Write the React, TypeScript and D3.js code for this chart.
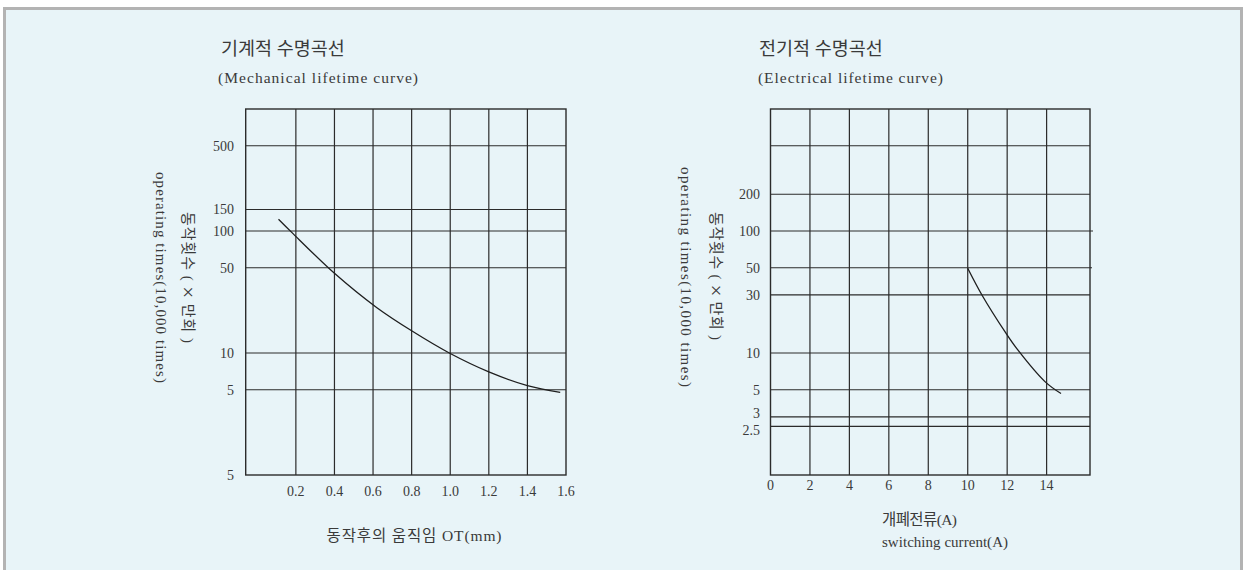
import React from 'react';
import * as d3 from 'd3';

// ---- Mechanical lifetime curve data ----
const mechXTicks = [0.2, 0.4, 0.6, 0.8, 1.0, 1.2, 1.4, 1.6];
const mechXTickLabels = ['0.2', '0.4', '0.6', '0.8', '1.0', '1.2', '1.4', '1.6'];
const mechYTicks = [500, 150, 100, 50, 10, 5, 1];
const mechYTickLabels = ['500', '150', '100', '50', '10', '5', '5'];
const mechYGrid = [500, 150, 100, 50, 10, 5];
const mechCurveX = [0.11, 0.18, 0.4, 0.62, 0.8, 1.0, 1.2, 1.4, 1.57];
const mechCurveY = [125, 97, 45, 23.5, 15.2, 9.9, 7.0, 5.4, 4.75];

// ---- Electrical lifetime curve data ----
const elecXTicks = [0, 2, 4, 6, 8, 10, 12, 14];
const elecXTickLabels = ['0', '2', '4', '6', '8', '10', '12', '14'];
const elecXGrid = [2, 4, 6, 8, 10, 12, 14];
const elecYTicks = [200, 100, 50, 30, 10, 5, 3, 2.5];
const elecYTickLabels = ['200', '100', '50', '30', '10', '5', '3', '2.5'];
const elecYGrid = [500, 200, 100, 50, 30, 10, 5, 3, 2.5];
const elecCurveX = [10, 10.72, 11.93, 12.5, 13.93, 14.73];
const elecCurveY = [49.5, 29.9, 14.6, 10.8, 5.8, 4.65];

const W = 1243;
const H = 570;
const SERIF = '"Liberation Serif", "DejaVu Serif", "Noto Sans CJK KR", serif';
const KR = '"Liberation Serif", "Noto Sans CJK KR", sans-serif';
const INK = '#2b2b2b';
const TXT = '#3a3a3a';

const yScale = d3.scaleLog().domain([1, 1000]).range([475, 109]);
const mechX = d3.scaleLinear().domain([-0.06, 1.6]).range([245.7, 566]);
const elecX = d3.scaleLinear().domain([0, 16.2]).range([770.5, 1090]);

function YLabelKR({ cx, cy, len }: { cx: number; cy: number; len: number }) {
  return (
    <text
      transform={`translate(${cx},${cy}) rotate(90)`}
      textAnchor="middle"
      dominantBaseline="central"
      fontFamily={KR}
      fontSize={15}
      fill={TXT}
      textLength={len}
      lengthAdjust="spacing"
    >
      동작횟수 ( <tspan fontSize={21} fontFamily='"Liberation Serif", serif'>×</tspan> 만회 )
    </text>
  );
}

export default function App() {
  const [y0, y1] = yScale.range();
  const mLeft = mechX.range()[0];
  const mRight = mechX.range()[1];
  const eLeft = elecX.range()[0];
  const eRight = elecX.range()[1];

  const mechLine = d3
    .line<number>()
    .x((_, i) => mechX(mechCurveX[i]))
    .y((d) => yScale(d))
    .curve(d3.curveCatmullRom.alpha(0.5))(mechCurveY) as string;

  const elecLine = d3
    .line<number>()
    .x((_, i) => elecX(elecCurveX[i]))
    .y((d) => yScale(d))
    .curve(d3.curveCatmullRom.alpha(0.5))(elecCurveY) as string;

  const elecYOffsets: Record<string, number> = { '3': -4, '2.5': 4 };

  return (
    <svg
      width={W}
      height={H}
      style={{ position: 'absolute', left: 0, top: 0, display: 'block' }}
      xmlns="http://www.w3.org/2000/svg"
    >
      <rect x={0} y={0} width={W} height={H} fill="#ffffff" />
      <rect x={6} y={10} width={1234} height={H - 10} fill="#e8f4f8" />
      <line x1={4.5} y1={7} x2={4.5} y2={H} stroke="#b3b3b3" strokeWidth={3} />
      <line x1={3} y1={8.5} x2={W} y2={8.5} stroke="#b3b3b3" strokeWidth={3} />
      <line x1={1241.5} y1={7} x2={1241.5} y2={H} stroke="#b3b3b3" strokeWidth={3} />

      {/* ---------- Left chart ---------- */}
      <text x={221} y={55} fontFamily={KR} fontSize={18.5} fill={TXT}>기계적 수명곡선</text>
      <text x={218} y={83} fontFamily={SERIF} fontSize={15.5} fill={TXT} textLength={200} lengthAdjust="spacing">(Mechanical lifetime curve)</text>

      {mechYGrid.map((v) => (
        <line key={'mg' + v} x1={mLeft} x2={mRight} y1={yScale(v)} y2={yScale(v)} stroke={INK} strokeWidth={1.2} />
      ))}
      {mechXTicks.slice(0, -1).map((v) => (
        <line key={'mv' + v} x1={mechX(v)} x2={mechX(v)} y1={y1} y2={y0} stroke={INK} strokeWidth={1.2} />
      ))}
      <rect x={mLeft} y={y1} width={mRight - mLeft} height={y0 - y1} fill="none" stroke={INK} strokeWidth={1.4} />
      <path d={mechLine} fill="none" stroke="#1e1e1e" strokeWidth={1.3} />

      {mechYTicks.map((v, i) => (
        <text key={'myl' + i} x={234} y={yScale(v)} dy="0.35em" textAnchor="end" fontFamily={SERIF} fontSize={14} fill={TXT}>
          {mechYTickLabels[i]}
        </text>
      ))}
      {mechXTicks.map((v, i) => (
        <text key={'mxl' + i} x={mechX(v)} y={496} textAnchor="middle" fontFamily={SERIF} fontSize={14} fill={TXT}>
          {mechXTickLabels[i]}
        </text>
      ))}
      <text transform="translate(161,277.5) rotate(90)" textAnchor="middle" dominantBaseline="central" fontFamily={SERIF} fontSize={15} fill={TXT} textLength={211} lengthAdjust="spacing">
        operating times(10,000 times)
      </text>
      <YLabelKR cx={188} cy={277.5} len={131} />
      <text x={414} y={541} textAnchor="middle" fontFamily={KR} fontSize={15.5} fill={TXT} textLength={175} lengthAdjust="spacing">
        동작후의 움직임 OT(mm)
      </text>

      {/* ---------- Right chart ---------- */}
      <text x={759} y={55} fontFamily={KR} fontSize={18.5} fill={TXT}>전기적 수명곡선</text>
      <text x={758} y={83} fontFamily={SERIF} fontSize={15.5} fill={TXT} textLength={185} lengthAdjust="spacing">(Electrical lifetime curve)</text>

      {elecYGrid.map((v) => (
        <line
          key={'eg' + v}
          x1={eLeft}
          x2={v === 100 ? eRight + 3 : v === 50 ? eRight + 2 : eRight}
          y1={yScale(v)}
          y2={yScale(v)}
          stroke={INK}
          strokeWidth={1.2}
        />
      ))}
      {elecXGrid.map((v) => (
        <line key={'ev' + v} x1={elecX(v)} x2={elecX(v)} y1={y1} y2={y0} stroke={INK} strokeWidth={1.2} />
      ))}
      <rect x={eLeft} y={y1} width={eRight - eLeft} height={y0 - y1} fill="none" stroke={INK} strokeWidth={1.4} />
      <path d={elecLine} fill="none" stroke="#1e1e1e" strokeWidth={1.3} />

      {elecYTicks.map((v, i) => (
        <text
          key={'eyl' + i}
          x={760}
          y={yScale(v) + (elecYOffsets[elecYTickLabels[i]] || 0)}
          dy="0.35em"
          textAnchor="end"
          fontFamily={SERIF}
          fontSize={14}
          fill={TXT}
        >
          {elecYTickLabels[i]}
        </text>
      ))}
      {elecXTicks.map((v, i) => (
        <text key={'exl' + i} x={elecX(v)} y={490} textAnchor="middle" fontFamily={SERIF} fontSize={14} fill={TXT}>
          {elecXTickLabels[i]}
        </text>
      ))}
      <text transform="translate(686,277) rotate(90)" textAnchor="middle" dominantBaseline="central" fontFamily={SERIF} fontSize={15} fill={TXT} textLength={220} lengthAdjust="spacing">
        operating times(10,000 times)
      </text>
      <YLabelKR cx={716} cy={276} len={128} />
      <text x={882} y={525} fontFamily={KR} fontSize={15.5} fill={TXT} textLength={75} lengthAdjust="spacing">
        개폐전류(A)
      </text>
      <text x={882} y={547} fontFamily={SERIF} fontSize={15} fill={TXT} textLength={126} lengthAdjust="spacing">
        switching current(A)
      </text>
    </svg>
  );
}
